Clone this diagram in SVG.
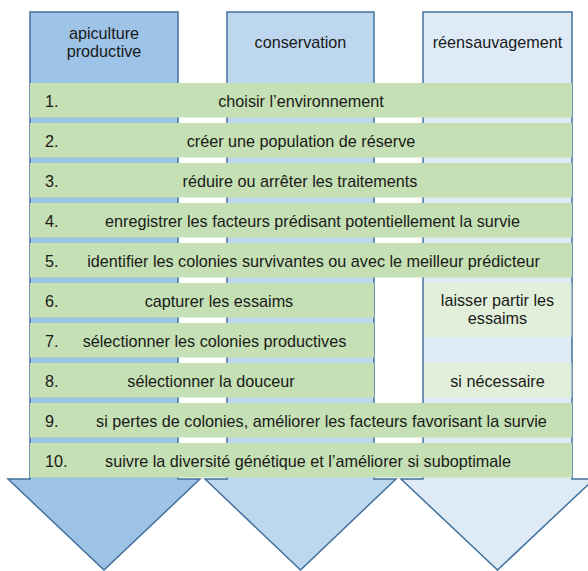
<svg xmlns="http://www.w3.org/2000/svg" width="588" height="571" viewBox="0 0 588 571">
<style>
.col{stroke:#41719c;stroke-width:1.5;stroke-linejoin:miter}
.c1{fill:#9dc3e6}.c2{fill:#bdd7ee}.c3{fill:#deebf7}
.bar{fill:#c5e0b4}
.cell{fill:#e2efda}
text{font-family:"Liberation Sans",Arial,sans-serif;font-size:16.2px;fill:#1a1a1a}
.m{text-anchor:middle}
</style>
<rect width="588" height="571" fill="#ffffff"/>
<g id="col-apiculture">
<path class="col c1" d="M30,12 H178 V479 H200 L104,570 L8,479 H30 Z"/>
<text class="m" x="104" y="39">apiculture</text>
<text class="m" x="104" y="57">productive</text>
</g>
<g id="col-conservation">
<path class="col c2" d="M227,12 H374 V479 H396 L300.5,570 L205,479 H227 Z"/>
<text class="m" x="300.5" y="48">conservation</text>
</g>
<g id="col-reensauvagement">
<path class="col c3" d="M423,12 H572 V479 H594 L497.5,570 L401,479 H423 Z"/>
<text class="m" x="497.5" y="48">réensauvagement</text>
</g>
<g id="step1"><rect class="bar" x="30" y="83" width="542" height="34.5"/><text x="45" y="107">1.</text><text class="m" x="301" y="107">choisir l’environnement</text></g>
<g id="step2"><rect class="bar" x="30" y="123" width="542" height="34.5"/><text x="45" y="147">2.</text><text class="m" x="301" y="147">créer une population de réserve</text></g>
<g id="step3"><rect class="bar" x="30" y="163" width="542" height="34.5"/><text x="45" y="187">3.</text><text class="m" x="300" y="187">réduire ou arrêter les traitements</text></g>
<g id="step4"><rect class="bar" x="30" y="203" width="542" height="34.5"/><text x="45" y="227">4.</text><text class="m" x="312.5" y="227">enregistrer les facteurs prédisant potentiellement la survie</text></g>
<g id="step5"><rect class="bar" x="30" y="243" width="542" height="34.5"/><text x="45" y="267">5.</text><text class="m" x="313.5" y="267">identifier les colonies survivantes ou avec le meilleur prédicteur</text></g>
<g id="step6"><rect class="bar" x="30" y="283" width="344" height="34.5"/><text x="45" y="307">6.</text><text class="m" x="219" y="307">capturer les essaims</text></g>
<g id="step7"><rect class="bar" x="30" y="323" width="344" height="34.5"/><text x="45" y="347">7.</text><text class="m" x="214.5" y="347">sélectionner les colonies productives</text></g>
<g id="step8"><rect class="bar" x="30" y="363" width="344" height="34.5"/><text x="45" y="387">8.</text><text class="m" x="211" y="387">sélectionner la douceur</text></g>
<g id="step9"><rect class="bar" x="30" y="403" width="542" height="34.5"/><text x="45" y="427">9.</text><text class="m" x="321.5" y="427">si pertes de colonies, améliorer les facteurs favorisant la survie</text></g>
<g id="step10"><rect class="bar" x="30" y="443" width="542" height="34.5"/><text x="45" y="467">10.</text><text class="m" x="308" y="467">suivre la diversité génétique et l’améliorer si suboptimale</text></g>
<g id="cell-laisser"><rect class="cell" x="424" y="283" width="147.5" height="54"/><text class="m" x="497.5" y="306">laisser partir les</text><text class="m" x="497.5" y="323.5">essaims</text></g>
<g id="cell-necessaire"><rect class="cell" x="424" y="363" width="147.5" height="34.5"/><text class="m" x="497.5" y="386.5">si nécessaire</text></g>
<g id="connectors"></g>
</svg>
